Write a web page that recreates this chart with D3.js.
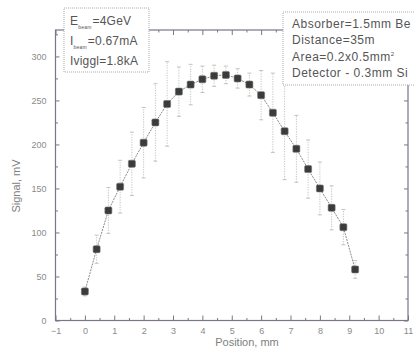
<!DOCTYPE html>
<html><head><meta charset="utf-8">
<script src="https://d3js.org/d3.v7.min.js"></script>
<style>body{margin:0;background:#fff}svg{display:block;font-family:"Liberation Sans",Arial,sans-serif}</style>
</head><body><svg id="c" width="414" height="353"></svg>
<script>
const positions = [0,0.4,0.8,1.2,1.6,2.0,2.4,2.8,3.2,3.6,4.0,4.4,4.8,5.2,5.6,6.0,6.4,6.8,7.2,7.6,8.0,8.4,8.8,9.2];
const signal = [33,81,125,152,178,202,225,246,260,268,274,278,279,275,268,256,236,215,195,172,150,128,106,58];
const errors = [5,16,26,30,36,40,44,48,28,23,15,12,10,11,13,28,45,55,38,33,30,25,20,10];
const xTicks = [-1,0,1,2,3,4,5,6,7,8,9,10,11];
const yTicks = [0,50,100,150,200,250,300];
const leftNotes = [["E","beam","=4GeV"],["I","beam","=0.67mA"],["Iviggl=1.8kA","",""]];
const rightNotes = ["Absorber=1.5mm Be","Distance=35m","Area=0.2x0.5mm","Detector - 0.3mm Si"];

const svg = d3.select("#c");
const L=55.5,R=408,T=30,B=320.5;
const x = d3.scaleLinear().domain([-1,11]).range([L,R]);
const y = d3.scaleLinear().domain([0,330]).range([B,T]);
const axisCol="#7d7488";

svg.append("rect").attr("x",L).attr("y",T).attr("width",R-L).attr("height",B-T)
  .attr("fill","none").attr("stroke",axisCol).attr("stroke-width",1.2);

const minorX = d3.range(-0.5,11,1);
const minorY = d3.range(25,330,50);
function styleAxis(g){g.select(".domain").remove();g.selectAll("line").attr("stroke",axisCol);g.selectAll("text").attr("fill","#8a8a8a").style("font-size","9px");}
svg.append("g").attr("transform",`translate(0,${B})`).call(d3.axisBottom(x).tickValues(xTicks).tickSizeInner(-5).tickSizeOuter(0).tickPadding(7).tickFormat(d3.format("d"))).call(styleAxis);
svg.append("g").attr("transform",`translate(0,${B})`).call(d3.axisBottom(x).tickValues(minorX).tickSizeInner(-2.5).tickSizeOuter(0).tickFormat("")).call(styleAxis);
svg.append("g").attr("transform",`translate(0,${T})`).call(d3.axisTop(x).tickValues(xTicks).tickSizeInner(-5).tickSizeOuter(0).tickFormat("")).call(styleAxis);
svg.append("g").attr("transform",`translate(0,${T})`).call(d3.axisTop(x).tickValues(minorX).tickSizeInner(-2.5).tickSizeOuter(0).tickFormat("")).call(styleAxis);
svg.append("g").attr("transform",`translate(${L},0)`).call(d3.axisLeft(y).tickValues(yTicks).tickSizeInner(-4).tickSizeOuter(0).tickPadding(9)).call(styleAxis);
svg.append("g").attr("transform",`translate(${L},0)`).call(d3.axisLeft(y).tickValues(minorY).tickSizeInner(-2.5).tickSizeOuter(0).tickFormat("")).call(styleAxis);
svg.append("g").attr("transform",`translate(${R},0)`).call(d3.axisRight(y).tickValues(yTicks).tickSizeInner(-4).tickSizeOuter(0).tickFormat("")).call(styleAxis);
svg.append("g").attr("transform",`translate(${R},0)`).call(d3.axisRight(y).tickValues(minorY).tickSizeInner(-2.5).tickSizeOuter(0).tickFormat("")).call(styleAxis);

svg.append("text").attr("x",247).attr("y",346).attr("text-anchor","middle").attr("fill","#808080").style("font-size","11px").text("Position, mm");
svg.append("text").attr("transform","translate(20,186) rotate(-90)").attr("text-anchor","middle").attr("fill","#808080").style("font-size","11px").text("Signal, mV");

const data = positions.map((p,i)=>({p,v:signal[i],e:errors[i]}));
const eb = svg.append("g").attr("stroke","#c2c2c2").attr("stroke-width",1);
eb.selectAll("line.v").data(data).join("line").attr("class","v")
  .attr("x1",d=>x(d.p)).attr("x2",d=>x(d.p)).attr("y1",d=>y(d.v-d.e)).attr("y2",d=>y(d.v+d.e))
  .attr("stroke-dasharray","1.2,1.3");
eb.selectAll("line.t").data(data).join("line").attr("class","t")
  .attr("x1",d=>x(d.p)-2).attr("x2",d=>x(d.p)+2).attr("y1",d=>y(d.v+d.e)).attr("y2",d=>y(d.v+d.e));
eb.selectAll("line.b").data(data).join("line").attr("class","b")
  .attr("x1",d=>x(d.p)-2).attr("x2",d=>x(d.p)+2).attr("y1",d=>y(d.v-d.e)).attr("y2",d=>y(d.v-d.e));

svg.append("path").datum(data).attr("fill","none").attr("stroke","#8a8a8a").attr("stroke-width",1)
  .attr("stroke-dasharray","2,1")
  .attr("d",d3.line().x(d=>x(d.p)).y(d=>y(d.v)));
svg.append("g").selectAll("rect").data(data).join("rect")
  .attr("x",d=>x(d.p)-3.5).attr("y",d=>y(d.v)-3.5).attr("width",7).attr("height",7).attr("rx",1.2)
  .attr("fill","#3a3a40").attr("stroke","#6b7a5a").attr("stroke-width",0.6);

svg.append("rect").attr("x",64).attr("y",8).attr("width",85).attr("height",64)
  .attr("fill","#fff").attr("stroke","#aaa").attr("stroke-dasharray","1,1");
leftNotes.forEach((n,i)=>{
  const t = svg.append("text").attr("x",70).attr("y",24.5+i*20).attr("fill","#555").style("font-size","12px").style("letter-spacing","0.2px");
  t.append("tspan").text(n[0]);
  if(n[1]){
    t.append("tspan").attr("dy",4).style("font-size","5px").text(n[1]);
    t.append("tspan").attr("dy",-4).attr("dx",1).text(n[2]);
  }
});
svg.append("rect").attr("x",283).attr("y",12).attr("width",140).attr("height",73)
  .attr("fill","#fff").attr("stroke","#aaa").attr("stroke-dasharray","1,1");
rightNotes.forEach((s,i)=>{
  const t = svg.append("text").attr("x",292).attr("y",27.5+i*16.5).attr("fill","#555").style("font-size","12px").style("letter-spacing","0.5px").text(s);
  if(i===2) t.append("tspan").attr("dy",-5).style("font-size","6px").text("2");
});
</script></body></html>
